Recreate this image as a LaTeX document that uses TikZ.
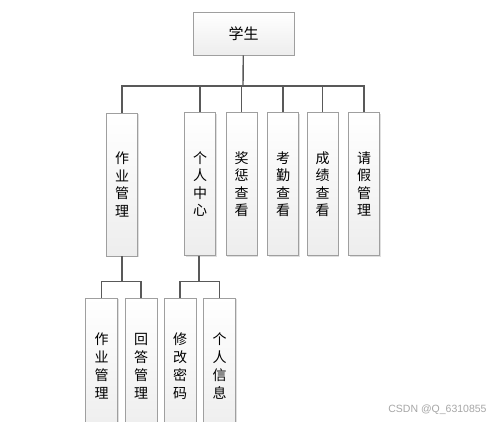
\documentclass[tikz,border=0pt]{standalone}
\usepackage{fontspec}
\setmainfont{Noto Sans CJK SC}
\newfontfamily\wmfont{Liberation Sans}
\usetikzlibrary{shadows}
\begin{document}
\begin{tikzpicture}[x=1pt,y=-1pt]

% definitions
\tikzstyle{box} = [rectangle, inner sep=0pt, text centered, draw=gray!75, line width=0.9pt, top color=white, bottom color=gray!14, drop shadow={shadow xshift=1.2pt, shadow yshift=-1.2pt, opacity=0.25, fill=gray}]

\tikzstyle{root} = [box, minimum width=101pt, minimum height=43pt, font=\fontsize{15}{18}\selectfont]

\tikzstyle{module} = [box, minimum width=31pt, minimum height=143pt, align=center, font=\fontsize{14}{17.5}\selectfont]

\tikzstyle{sub} = [box, minimum width=32pt, minimum height=136pt, align=center, font=\fontsize{14}{18}\selectfont]

\tikzstyle{line} = [draw=black!65, line width=1.4pt]

\useasboundingbox [fill=white] (0,0) rectangle (499,422);

% the graph
\node (s0) [root] at (243.5,33.5) {学生};

\node (a1) [module] at (122,184.5) {作\\业\\管\\理};

\node (a2) [module] at (200,184) {个\\人\\中\\心};

\node (a3) [module] at (241.5,184) {奖\\惩\\查\\看};

\node (a4) [module] at (283,184) {考\\勤\\查\\看};

\node (a5) [module] at (322.5,184) {成\\绩\\查\\看};

\node (a6) [module] at (364,184) {请\\假\\管\\理};

\node (b1) [sub] at (101.7,366) {作\\业\\管\\理};

\node (b2) [sub] at (141,366) {回\\答\\管\\理};

\node (b3) [sub] at (180,366) {修\\改\\密\\码};

\node (b4) [sub] at (219.7,366) {个\\人\\信\\息};

\node (wm) [text=gray!70, font=\wmfont\fontsize{10.5}{12}\selectfont] at (437.5,410) {CSDN @Q\_6310855};

% connectors
\coordinate (j0) at (243,86);
\coordinate (j1) at (122,281.7);
\coordinate (j2) at (199,281.7);

\draw [line] (s0) -- (j0);
\foreach \n in {a1,a2,a3,a4,a5,a6}
  \draw [line] (j0) -| (\n);

\draw [line] (a1) -- (j1);
\draw [line] (j1) -| (b1);
\draw [line] (j1) -| (b2);

\draw [line] (a2.south -| j2) -- (j2);
\draw [line] (j2) -| (b3);
\draw [line] (j2) -| (b4);

\end{tikzpicture}
\end{document}
